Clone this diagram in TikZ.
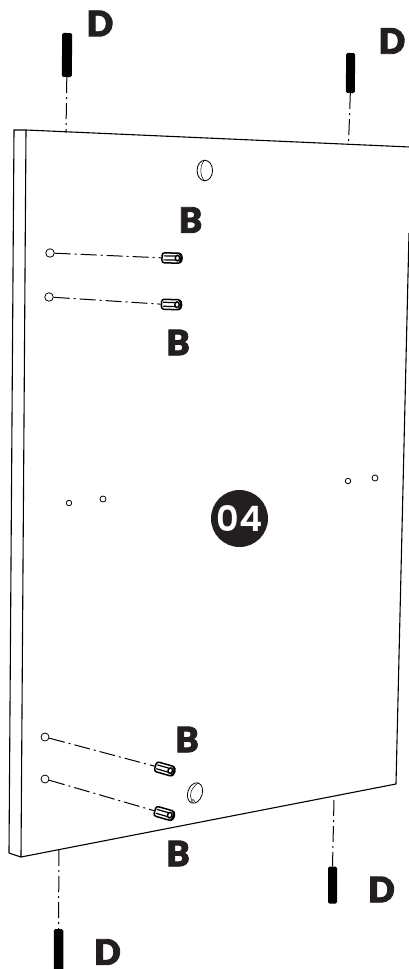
\documentclass[tikz,border=0pt]{standalone}
\usepackage{fontspec}
\newfontfamily\lab[FakeBold=2.5]{Lato Black}
\newfontfamily\numf{Poppins SemiBold}
\definecolor{ink}{HTML}{231F20}
\tikzset{
 panel/.style={draw=black,line width=1.1pt,line join=round},
 hole/.style={circle,draw=black,line width=.8pt,fill=white,inner sep=0pt,minimum size=#1},
 guide/.style={draw=black,line width=1pt,dash pattern=on 16pt off 4pt on 2pt off 4pt},
 pinbody/.style={rectangle,rounded corners=1.5pt,fill=black,inner sep=0pt,minimum width=#1},
 letter/.style={font=\lab\fontsize{35}{35}\selectfont,text=ink,inner sep=0pt},
 barrelbody/.style={rectangle,rounded corners=2.5pt,draw=black,line width=1.5pt,fill=white,inner sep=0pt,minimum width=19pt,minimum height=10pt},
 barreldetail/.style={draw=black,line width=.9pt},
 thindetail/.style={draw=black,line width=.5pt},
 bighole/.style={ellipse,draw=black,line width=.8pt,inner sep=0pt},
}
\newcommand{\barrel}[4]{%
 \node[barrelbody,rotate=#3] (#4) at (#1,#2) {};
 \begin{scope}[shift={(#1,#2)},rotate=#3]
  \draw[barreldetail,line width=1.2pt] (-8,2) -- (6,2) (-8,-2) -- (6,-2);
  \draw[barreldetail,line width=2pt] (8,-4.4) arc (-90:90:2.4 and 4.4);
  \draw[barreldetail,line width=1.5pt,fill=white] (6,0) ellipse (2.2 and 2.8);
 \end{scope}}
\usetikzlibrary{shapes.geometric}
\begin{document}
\begin{tikzpicture}[x=1pt,y=-1pt]
\useasboundingbox (0,0) rectangle (408,969);
\fill[white] (0,0) rectangle (408,969);
% panel
\draw[panel] (9,853) -- (14,130) -- (26,130) -- (410,147);
\draw[panel] (26,130) -- (21,857) -- (396,784) -- (409,233);
\draw[panel] (9,853) -- (21,857);
% anchor coordinates on the panel edges
\coordinate (t1) at (66,132.5);
\coordinate (t2) at (348.5,145);
\coordinate (b1) at (59,850);
\coordinate (b2) at (334,800);
% pins
\node[pinbody=10pt,minimum height=44pt,rotate=-0.5] (p1) at (67,55) {};
\node[pinbody=9pt,minimum height=40pt,rotate=-0.5] (p2) at (350.5,73) {};
\node[pinbody=9pt,minimum height=37pt] (p3) at (332.5,885) {};
\node[pinbody=9.5pt,minimum height=42pt] (p4) at (58.5,950) {};
\draw[guide] (p1.south) -- (t1);
\draw[guide] (p2.south) -- (t2);
\draw[guide] (b2) -- (p3.north);
\draw[guide] (b1) -- (p4.north);
% small holes
\node[hole=8.5pt] (h1) at (50,253) {};
\node[hole=8.5pt] (h2) at (49,297) {};
\node[hole=8pt] (h3) at (45,737) {};
\node[hole=8pt] (h4) at (45,779) {};
\node[hole=5.5pt] (m1) at (69,503) {};
\node[hole=6pt] (m2) at (103,499) {};
\node[hole=5.5pt] (m3) at (348,481) {};
\node[hole=6pt] (m4) at (375,478) {};
% barrels
\barrel{171.5}{258}{-1}{d1}
\barrel{171}{304.5}{-2}{d2}
\barrel{164.5}{769}{-16}{d3}
\barrel{164}{813.5}{-16}{d4}
\draw[guide] (h1) -- (d1.west);
\draw[guide] (h2) -- (d2.west);
\draw[guide] (h3) -- (d3.west);
\draw[guide] (h4) -- (d4.west);
% large holes
\node[bighole,minimum width=15.5pt,minimum height=20.5pt] (g1) at (204.8,170.5) {};
\draw[thindetail] (g1.north) .. controls (199.5,165) and (199.5,176) .. (g1.south);
\node[bighole,minimum width=14.5pt,minimum height=21pt,rotate=-18] (g2) at (195,793) {};
\draw[thindetail] (g2.north) .. controls (191,788) and (189,795) .. (191.5,800);
\draw[thindetail] (193,801) circle (1.6);
% step badge
\node[circle,fill=ink,minimum size=57pt,inner sep=0pt,text=white,font=\numf\fontsize{35}{35}\selectfont] (n) at (239.5,518.5) {04};
% labels
\node[letter] (l1) at (100,23.5) {D};
\node[letter] (l2) at (392,41) {D};
\node[letter] (l3) at (381.5,889.5) {D};
\node[letter] (l4) at (107.5,952) {D};
\node[letter] (l5) at (190.5,220) {B};
\node[letter] (l6) at (178,342.5) {B};
\node[letter] (l7) at (187,739.5) {B};
\node[letter] (l8) at (178,853.5) {B};
\end{tikzpicture}
\end{document}
